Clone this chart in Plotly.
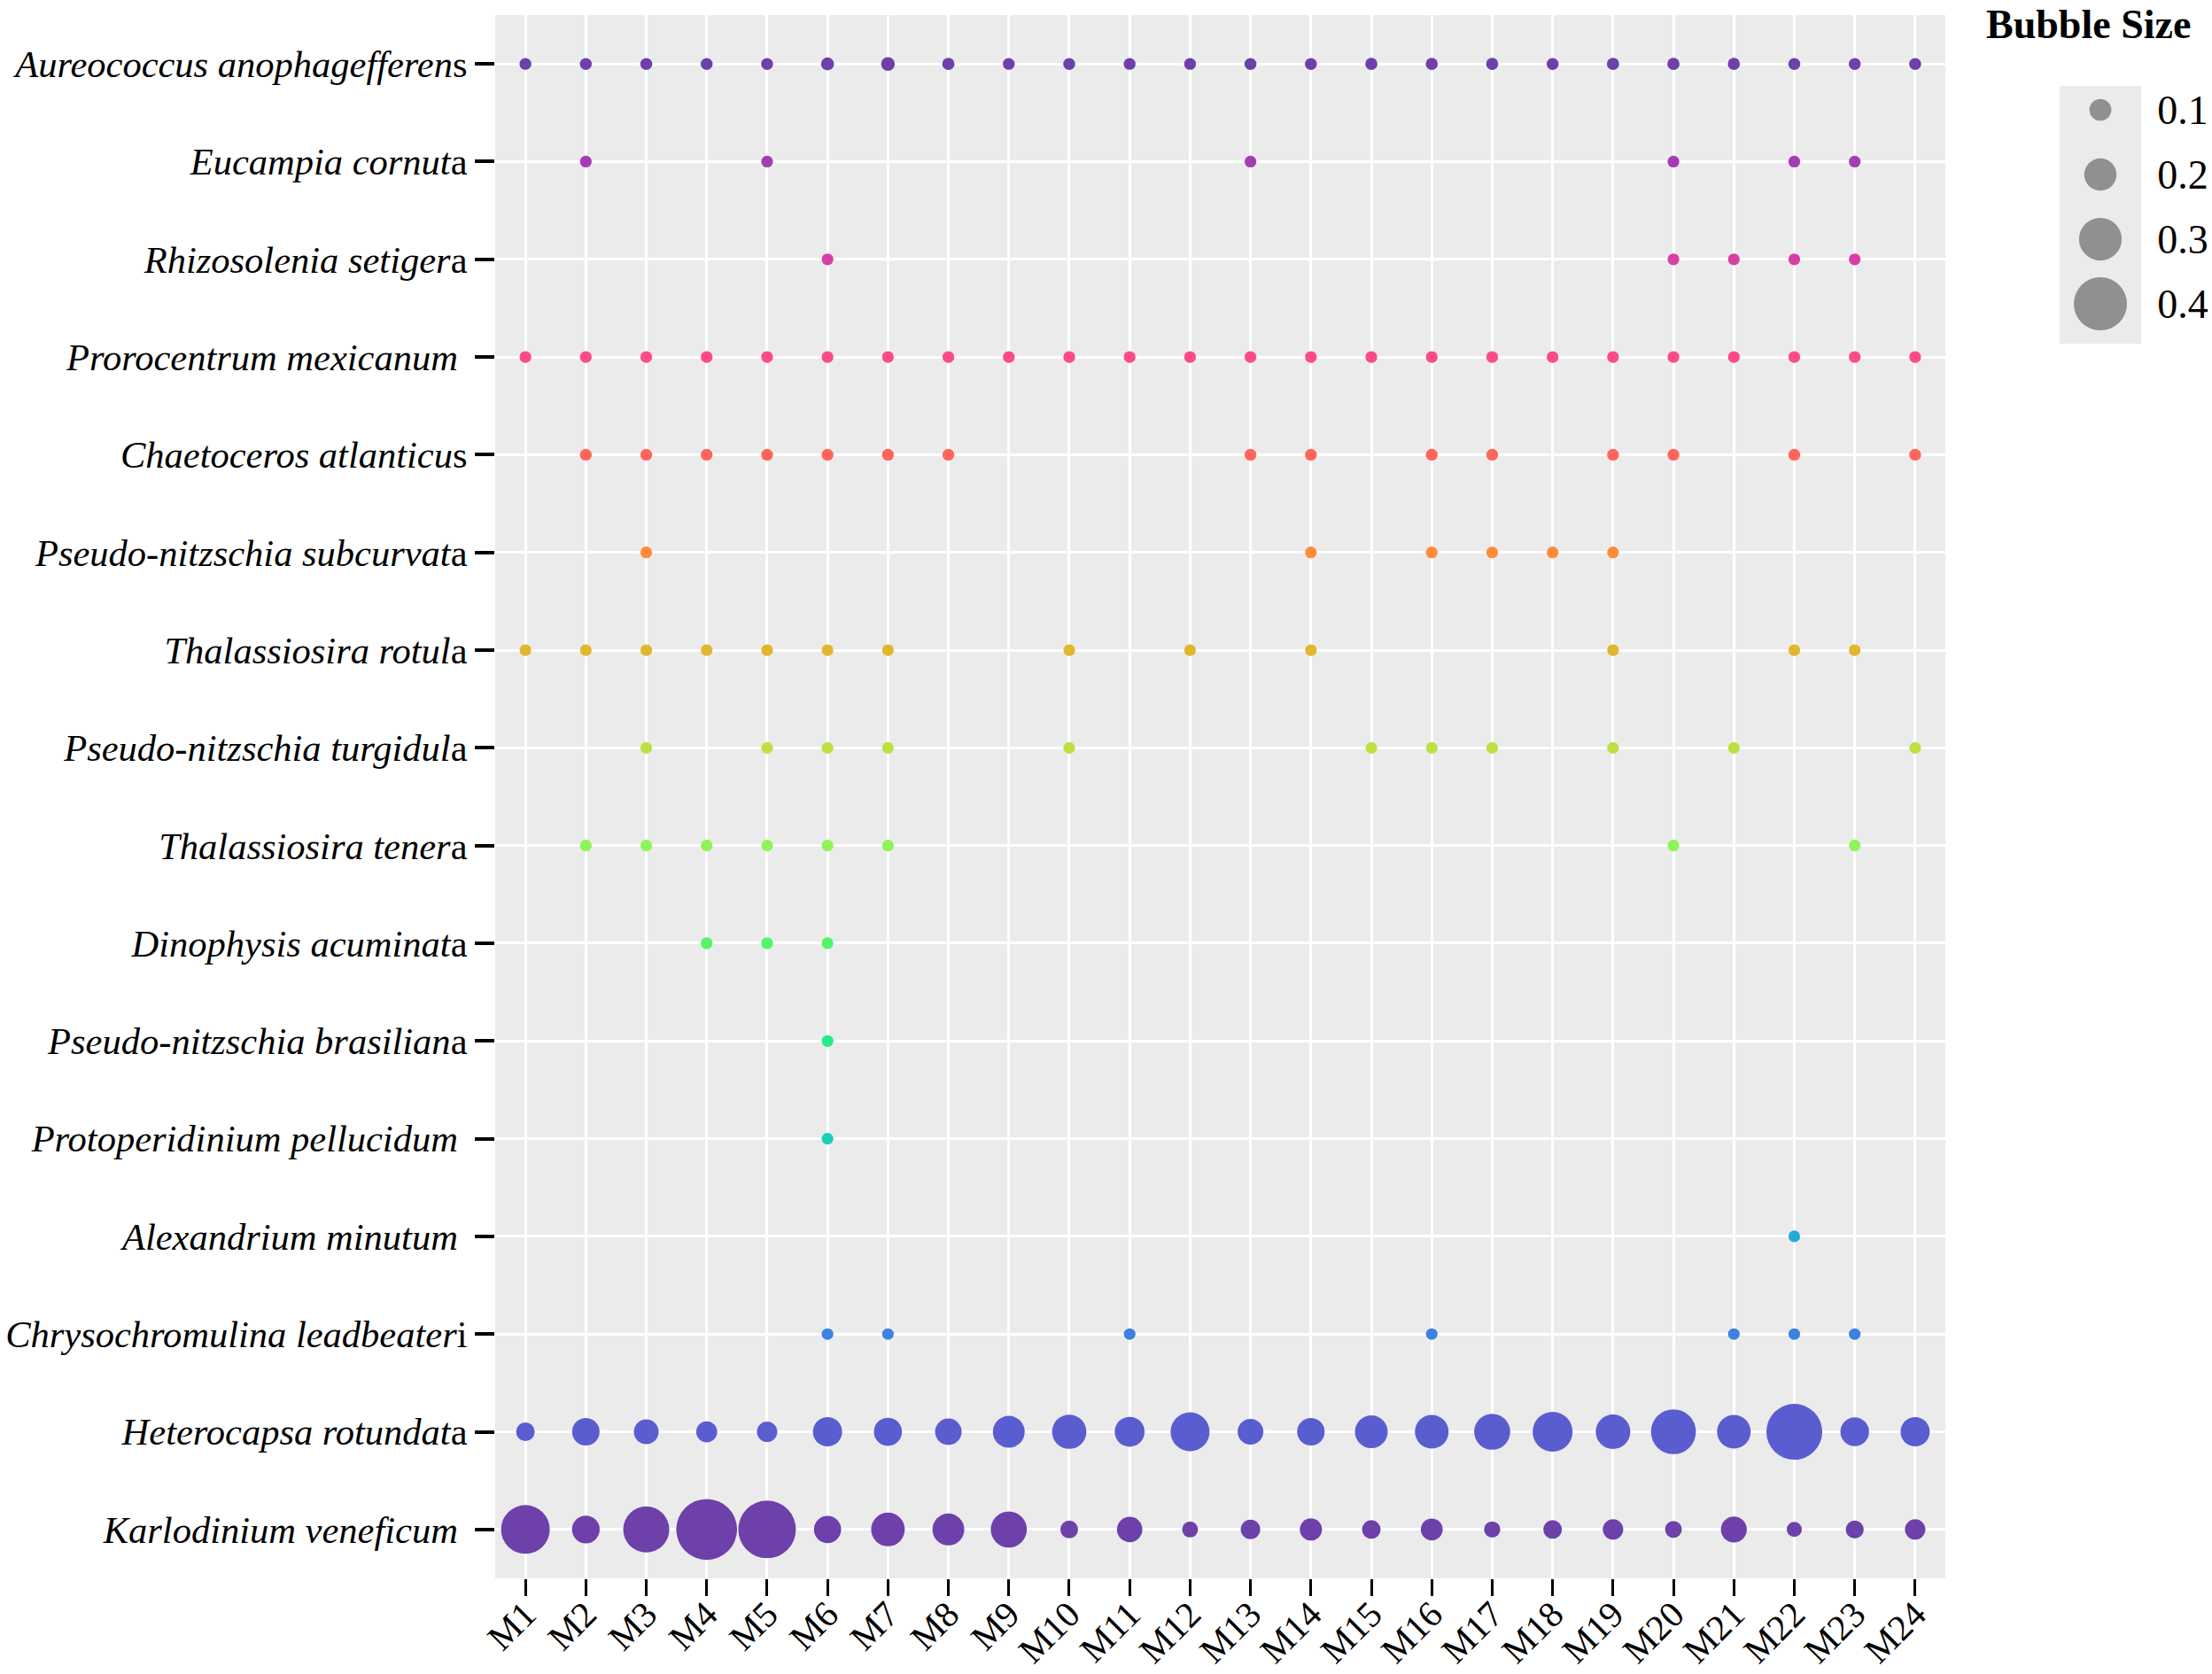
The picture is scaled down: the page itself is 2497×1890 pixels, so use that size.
import math
import plotly.graph_objects as go

NA = None

months = ["M1", "M2", "M3", "M4", "M5", "M6", "M7", "M8", "M9", "M10", "M11", "M12",
          "M13", "M14", "M15", "M16", "M17", "M18", "M19", "M20", "M21", "M22", "M23", "M24"]

# species, top row first
species = [
    "Aureococcus anophagefferens", "Eucampia cornuta", "Rhizosolenia setigera",
    "Prorocentrum mexicanum", "Chaetoceros atlanticus", "Pseudo-nitzschia subcurvata",
    "Thalassiosira rotula", "Pseudo-nitzschia turgidula", "Thalassiosira tenera",
    "Dinophysis acuminata", "Pseudo-nitzschia brasiliana", "Protoperidinium pellucidum",
    "Alexandrium minutum", "Chrysochromulina leadbeateri", "Heterocapsa rotundata",
    "Karlodinium veneficum",
]

tick_text = [
    "<i>Aureococcus anophagefferen</i>s", "<i>Eucampia cornut</i>a", "<i>Rhizosolenia setiger</i>a",
    "<i>Prorocentrum mexicanum</i> ", "<i>Chaetoceros atlanticu</i>s", "<i>Pseudo-nitzschia subcurvat</i>a",
    "<i>Thalassiosira rotul</i>a", "<i>Pseudo-nitzschia turgidul</i>a", "<i>Thalassiosira tener</i>a",
    "<i>Dinophysis acuminat</i>a", "<i>Pseudo-nitzschia brasilian</i>a", "<i>Protoperidinium pellucidum</i> ",
    "<i>Alexandrium minutum</i> ", "<i>Chrysochromulina leadbeater</i>i", "<i>Heterocapsa rotundat</i>a",
    "<i>Karlodinium veneficum</i> ",
]

# relative abundance per month (None = absent)
aureococcus = [0.004, 0.005, 0.005, 0.005, 0.005, 0.015, 0.022, 0.008, 0.004, 0.005, 0.004, 0.004,
               0.005, 0.005, 0.006, 0.006, 0.006, 0.005, 0.008, 0.008, 0.006, 0.005, 0.005, 0.005]
eucampia = [NA, 0.003, NA, NA, 0.003, NA, NA, NA, NA, NA, NA, NA,
            0.003, NA, NA, NA, NA, NA, NA, 0.003, NA, 0.003, 0.003, NA]
rhizosolenia = [NA, NA, NA, NA, NA, 0.003, NA, NA, NA, NA, NA, NA,
                NA, NA, NA, NA, NA, NA, NA, 0.003, 0.003, 0.003, 0.003, NA]
prorocentrum = [0.004, 0.004, 0.004, 0.004, 0.004, 0.004, 0.004, 0.004, 0.004, 0.004, 0.004, 0.004,
                0.004, 0.004, 0.004, 0.004, 0.004, 0.004, 0.004, 0.004, 0.004, 0.004, 0.004, 0.004]
chaetoceros = [NA, 0.004, 0.004, 0.004, 0.004, 0.004, 0.004, 0.004, NA, NA, NA, NA,
               0.004, 0.004, NA, 0.004, 0.004, NA, 0.004, 0.004, NA, 0.004, NA, 0.004]
subcurvata = [NA, NA, 0.003, NA, NA, NA, NA, NA, NA, NA, NA, NA,
              NA, 0.003, NA, 0.003, 0.003, 0.003, 0.003, NA, NA, NA, NA, NA]
rotula = [0.003, 0.003, 0.003, 0.003, 0.003, 0.003, 0.003, NA, NA, 0.003, NA, 0.003,
          NA, 0.003, NA, NA, NA, NA, 0.003, NA, NA, 0.003, 0.003, NA]
turgidula = [NA, NA, 0.003, NA, 0.003, 0.003, 0.003, NA, NA, 0.003, NA, NA,
             NA, NA, 0.003, 0.003, 0.003, NA, 0.003, NA, 0.003, NA, NA, 0.003]
tenera = [NA, 0.003, 0.003, 0.003, 0.003, 0.003, 0.003, NA, NA, NA, NA, NA,
          NA, NA, NA, NA, NA, NA, NA, 0.003, NA, NA, 0.003, NA]
dinophysis = [NA, NA, NA, 0.003, 0.003, 0.003, NA, NA, NA, NA, NA, NA,
              NA, NA, NA, NA, NA, NA, NA, NA, NA, NA, NA, NA]
brasiliana = [NA, NA, NA, NA, NA, 0.003, NA, NA, NA, NA, NA, NA,
              NA, NA, NA, NA, NA, NA, NA, NA, NA, NA, NA, NA]
protoperidinium = [NA, NA, NA, NA, NA, 0.003, NA, NA, NA, NA, NA, NA,
                   NA, NA, NA, NA, NA, NA, NA, NA, NA, NA, NA, NA]
alexandrium = [NA, NA, NA, NA, NA, NA, NA, NA, NA, NA, NA, NA,
               NA, NA, NA, NA, NA, NA, NA, NA, NA, 0.002, NA, NA]
chrysochromulina = [NA, NA, NA, NA, NA, 0.002, 0.002, NA, NA, NA, 0.002, NA,
                    NA, NA, NA, 0.002, NA, NA, NA, NA, 0.002, 0.002, 0.002, NA]
heterocapsa = [0.069, 0.154, 0.128, 0.092, 0.086, 0.171, 0.160, 0.145, 0.196, 0.219, 0.177, 0.264,
               0.137, 0.154, 0.205, 0.213, 0.236, 0.273, 0.222, 0.321, 0.213, 0.426, 0.165, 0.171]
karlodinium = [0.358, 0.156, 0.332, 0.474, 0.443, 0.151, 0.213, 0.196, 0.236, 0.060, 0.134, 0.043,
               0.077, 0.103, 0.069, 0.100, 0.046, 0.069, 0.086, 0.052, 0.139, 0.035, 0.063, 0.086]

rows = [aureococcus, eucampia, rhizosolenia, prorocentrum, chaetoceros, subcurvata, rotula,
        turgidula, tenera, dinophysis, brasiliana, protoperidinium, alexandrium,
        chrysochromulina, heterocapsa, karlodinium]

legend_vals = [0.1, 0.2, 0.3, 0.4]
legend_text = ["0.1", "0.2", "0.3", "0.4"]

W, H = 2497, 1890
FONT = "Liberation Serif, Times New Roman, serif"


def bubble_px(v):
    # linear radius scale, like the original
    return 12.9 + 117.7 * v


def rainbow(t):
    # d3 interpolateRainbow (cubehelix)
    t = t - math.floor(t)
    ts = abs(t - 0.5)
    h = math.radians(360 * t - 100 + 120)
    s = 1.5 - 1.5 * ts
    l = 0.8 - 0.9 * ts
    a = s * l * (1 - l)
    ch, sh = math.cos(h), math.sin(h)
    r = l + a * (-0.14861 * ch + 1.78277 * sh)
    g = l + a * (-0.29227 * ch - 0.90649 * sh)
    b = l + a * (1.97294 * ch)
    c = [max(0, min(255, round(255 * x))) for x in (r, g, b)]
    return "rgb(%d,%d,%d)" % tuple(c)


fig = go.Figure()

n = len(species)
for i, (name, vals) in enumerate(zip(species, rows)):
    xs = [m for m, v in zip(months, vals) if v is not None]
    vs = [v for v in vals if v is not None]
    fig.add_trace(go.Scatter(
        x=xs, y=[name] * len(xs), mode="markers",
        marker=dict(size=[bubble_px(v) for v in vs], sizemode="diameter",
                    color=rainbow(i / (n - 1)), line=dict(width=0), opacity=1),
        showlegend=False, hovertemplate=name + " %{x}<extra></extra>",
    ))

# size key
fig.add_trace(go.Scatter(
    x=[0] * len(legend_vals), y=legend_vals, xaxis="x2", yaxis="y2", mode="markers",
    marker=dict(size=[bubble_px(v) for v in legend_vals], sizemode="diameter",
                color="#696969", line=dict(width=0)),
    showlegend=False, hoverinfo="skip",
))

fig.update_layout(
    width=W, height=H,
    margin=dict(l=0, r=0, t=0, b=0),
    paper_bgcolor="white", plot_bgcolor="#EBEBEB",
    font=dict(family=FONT, color="black"),
    xaxis=dict(
        type="category", categoryorder="array", categoryarray=months,
        range=[-0.5, len(months) - 0.5], domain=[559 / W, 2196 / W],
        showgrid=True, gridcolor="white", gridwidth=3, zeroline=False, showline=False,
        ticks="outside", ticklen=19, tickwidth=3, tickcolor="black",
        tickangle=-45, tickfont=dict(family=FONT, size=41, color="black"),
        ticklabelstandoff=-20,
        automargin=False, anchor="y",
    ),
    yaxis=dict(
        type="category", categoryorder="array", categoryarray=species,
        range=[n - 0.5, -0.5], domain=[108 / H, 1 - 17 / H],
        tickvals=species, ticktext=tick_text,
        showgrid=True, gridcolor="white", gridwidth=3, zeroline=False, showline=False,
        ticks="outside", ticklen=22, tickwidth=3.5, tickcolor="black",
        tickfont=dict(family=FONT, size=42.5, color="black"),
        automargin=False, anchor="x",
    ),
    xaxis2=dict(domain=[2325 / W, 2417 / W], range=[-1, 1], visible=False,
                anchor="y2", fixedrange=True),
    yaxis2=dict(domain=[1 - 388 / H, 1 - 97 / H], range=[0.4616, 0.063], anchor="x2",
                side="right", tickvals=legend_vals, ticktext=legend_text,
                showgrid=False, zeroline=False, showline=False,
                ticks="outside", ticklen=8, tickcolor="rgba(0,0,0,0)",
                tickfont=dict(family=FONT, size=46, color="black"),
                automargin=False, fixedrange=True),
    annotations=[dict(
        text="<b>Bubble Size</b>", xref="paper", yref="paper",
        x=2240 / W, y=1, xanchor="left", yanchor="top", showarrow=False,
        font=dict(family=FONT, size=46, color="black"),
    )],
)

fig.write_html("out.html", config={"displayModeBar": False},
               post_script="document.body.style.margin='0';")
